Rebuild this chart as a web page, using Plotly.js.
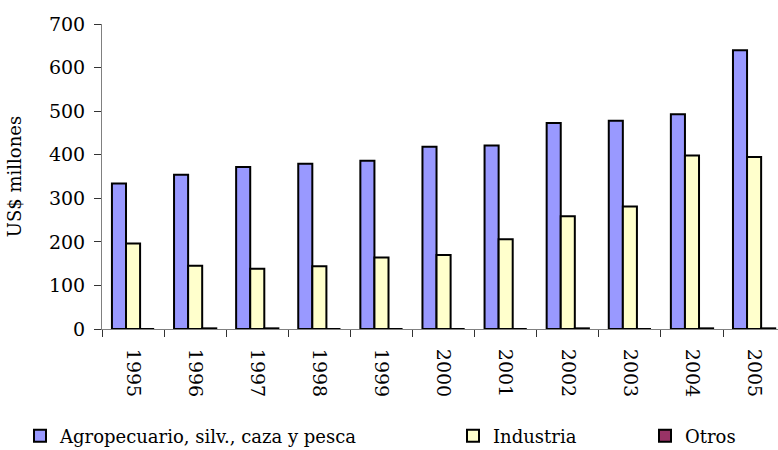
<!DOCTYPE html>
<html>
<head>
<meta charset="utf-8">
<script src="https://cdn.plot.ly/plotly-3.0.1.min.js"></script>
<style>html,body{margin:0;padding:0;background:#fff;}#chart{width:778px;height:450px;}</style>
</head>
<body>
<div id="chart"></div>
<script>
var years = ["1995","1996","1997","1998","1999","2000","2001","2002","2003","2004","2005"];
var agro = [334, 354, 372, 379, 386, 418, 421, 473, 478, 493, 640];
var industria = [196, 145, 138, 144, 164, 170, 206, 259, 281, 398, 395];
var otros = [0, 1.5, 1.5, 0, 0, 0, 0, 1.5, 0, 1.5, 1.5];
var seriesNames = ["Agropecuario, silv., caza y pesca", "Industria", "Otros"];
var seriesColors = ["#9999FF", "#FFFFCC", "#993366"];

var FONT = "DejaVu Serif, serif";
var series = [agro, industria, otros];
var legendIds = ["legend", "legend2", "legend3"];
var traces = series.map(function (vals, i) {
  return {
    type: "bar",
    x: years,
    y: vals,
    name: seriesNames[i],
    legend: legendIds[i],
    marker: { color: seriesColors[i], line: { color: "#000000", width: 2 } },
    hoverinfo: "x+y+name"
  };
});

function legendAt(px) {
  return {
    orientation: "h",
    x: (px - 102) / 676, xref: "paper", xanchor: "left",
    y: (450 - 436) / 450, yref: "container", yanchor: "middle",
    font: { family: FONT, size: 18, color: "#000" },
    bgcolor: "rgba(0,0,0,0)",
    itemwidth: 30,
    tracegroupgap: 0
  };
}

var layout = {
  width: 778,
  height: 450,
  margin: { l: 102, r: 0, t: 24, b: 121, pad: 0, autoexpand: false },
  paper_bgcolor: "#ffffff",
  plot_bgcolor: "#ffffff",
  barmode: "group",
  bargap: 0.32,
  bargroupgap: 0,
  font: { family: FONT, size: 18, color: "#000" },
  showlegend: true,
  legend: legendAt(20),
  legend2: legendAt(453),
  legend3: legendAt(645),
  xaxis: {
    type: "category",
    range: [-0.5, 10.385],
    tickangle: 90,
    tickson: "boundaries",
    ticks: "outside",
    ticklen: 7,
    tickcolor: "#333",
    tickwidth: 1,
    showline: true,
    linecolor: "#808080",
    linewidth: 1,
    showgrid: false,
    zeroline: false,
    ticklabelstandoff: 15,
    tickfont: { family: FONT, size: 19, color: "#000" }
  },
  yaxis: {
    range: [0, 700],
    dtick: 100,
    tick0: 0,
    ticks: "outside",
    ticklen: 7,
    tickcolor: "#333",
    tickwidth: 1,
    showline: true,
    linecolor: "#808080",
    linewidth: 1,
    showgrid: false,
    zeroline: false,
    ticklabelstandoff: 5,
    tickfont: { family: FONT, size: 19, color: "#000" },
    title: { text: "US$ millones", font: { family: FONT, size: 18, color: "#000" }, standoff: 22 }
  }
};

Plotly.newPlot("chart", traces, layout, { displayModeBar: false });
</script>
</body>
</html>
